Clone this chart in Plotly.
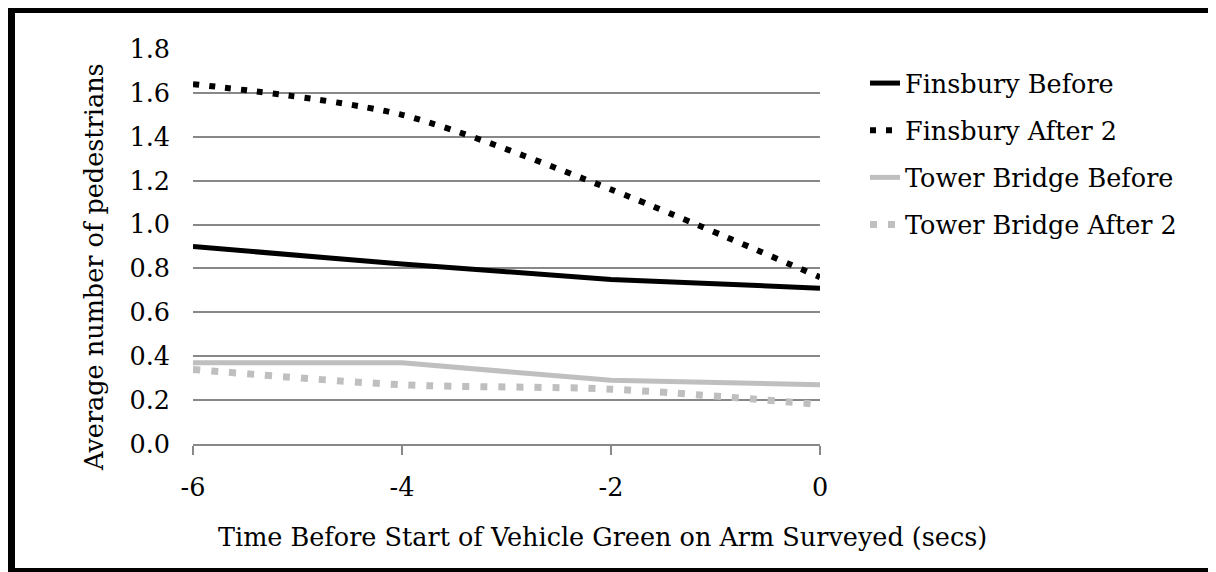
import plotly.graph_objects as go

x_secs = [-6, -4, -2, 0]
finsbury_before = [0.90, 0.82, 0.75, 0.71]
finsbury_after2 = [1.64, 1.50, 1.16, 0.76]
tower_before = [0.37, 0.37, 0.29, 0.27]
tower_after2 = [0.34, 0.27, 0.25, 0.18]
y_ticks = [0.0, 0.2, 0.4, 0.6, 0.8, 1.0, 1.2, 1.4, 1.6, 1.8]
y_ticklabels = [f"{v:.1f}" for v in y_ticks]
x_ticks = [-6, -4, -2, 0]

FONT = "DejaVu Serif"
FS = 25.5
OFF = 8  # page body margin
W, H = 1208, 564
L, R, T, B = 185, 396, 41, 128
pw, ph = W - L - R, H - T - B

def px(xp):
    return (xp - OFF - L) / pw

def py(yp):
    return (H - B - (yp - OFF)) / ph

fig = go.Figure()
fig.add_trace(go.Scatter(x=x_secs, y=finsbury_before, name="Finsbury Before", mode="lines",
                         legendgroup="a", line=dict(color="black", width=5)))
fig.add_trace(go.Scatter(x=x_secs, y=finsbury_after2, name="Finsbury After 2", mode="lines",
                         legendgroup="b", line=dict(color="black", width=6, dash="6px,10px",
                                                    shape="spline", smoothing=0.8)))
fig.add_trace(go.Scatter(x=x_secs, y=tower_before, name="Tower Bridge Before", mode="lines",
                         legendgroup="c", line=dict(color="#BFBFBF", width=5)))
fig.add_trace(go.Scatter(x=x_secs, y=tower_after2, name="Tower Bridge After 2", mode="lines",
                         legendgroup="d", line=dict(color="#BFBFBF", width=7, dash="7px,11px",
                                                    shape="spline", smoothing=0.8)))

fig.update_layout(
    width=W, height=H,
    margin=dict(l=L, r=R, t=T, b=B),
    paper_bgcolor="white", plot_bgcolor="white",
    font=dict(family=FONT, size=FS, color="black"),
    showlegend=True,
    legend=dict(x=px(865), xanchor="left", y=py(60), yanchor="top",
                traceorder="grouped", tracegroupgap=11,
                font=dict(family=FONT, size=FS, color="black"),
                bgcolor="rgba(0,0,0,0)", borderwidth=0),
    xaxis=dict(range=[-6, 0], tickvals=x_ticks, ticktext=[str(v) for v in x_ticks],
               showgrid=False, zeroline=False, showline=True, linecolor="#888888", linewidth=2,
               ticks="outside", ticklen=9, tickwidth=2, tickcolor="#888888",
               ticklabelstandoff=10, tickfont=dict(family=FONT, size=FS)),
    yaxis=dict(range=[0, 1.8], tickvals=y_ticks, ticktext=y_ticklabels,
               showgrid=True, gridcolor="#888888", gridwidth=1.5, zeroline=False,
               showline=False, ticks="", ticklabelstandoff=22,
               tickfont=dict(family=FONT, size=FS)),
    shapes=[dict(type="rect", xref="paper", yref="paper",
                 x0=px(11), x1=px(1216), y0=py(572), y1=py(9),
                 line=dict(color="black", width=8), fillcolor="rgba(0,0,0,0)", layer="above")],
    annotations=[
        dict(text="Time Before Start of Vehicle Green on Arm Surveyed (secs)",
             xref="paper", yref="paper", x=px(602), y=py(537), xanchor="center", yanchor="middle",
             showarrow=False, font=dict(family=FONT, size=FS)),
        dict(text="Average number of pedestrians", textangle=-90,
             xref="paper", yref="paper", x=px(94), y=py(267), xanchor="center", yanchor="middle",
             showarrow=False, font=dict(family=FONT, size=FS)),
    ],
)

fig.write_html("out.html")
